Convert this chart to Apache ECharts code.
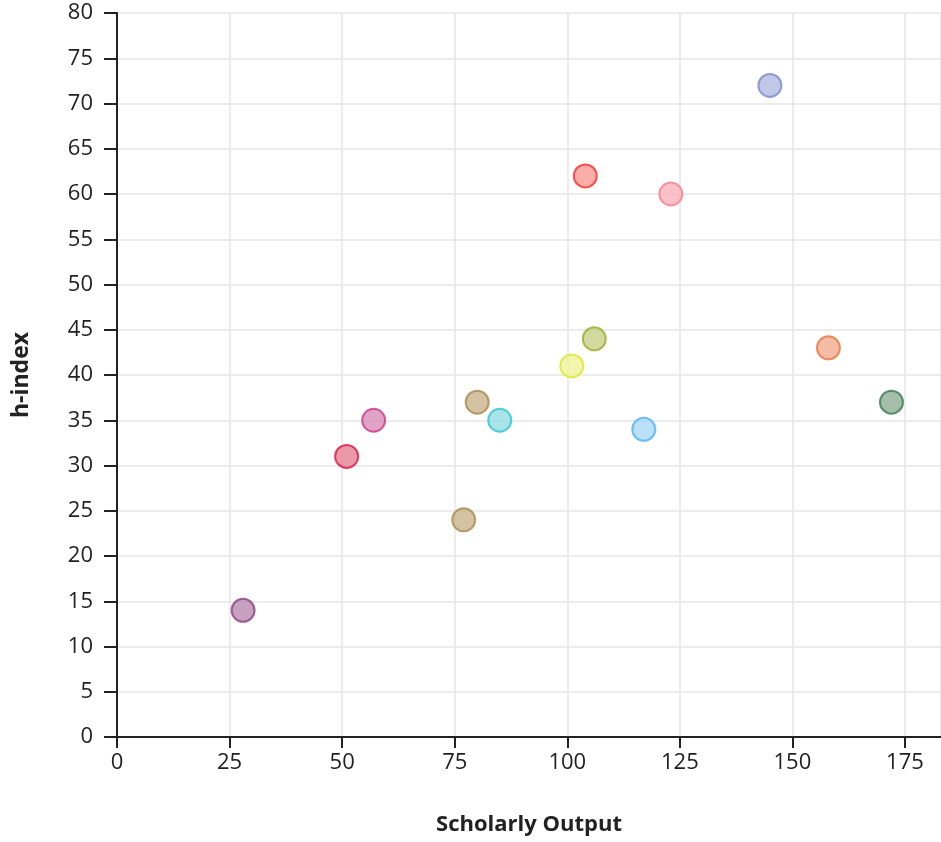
<!DOCTYPE html>
<html>
<head>
<meta charset="utf-8">
<script src="https://cdn.jsdelivr.net/npm/echarts@6/dist/echarts.min.js"></script>
<style>
html,body{margin:0;padding:0;background:#fff;}
#chart{width:941px;height:842px;}
</style>
</head>
<body>
<div id="chart"></div>
<script>
// Data
var scholarlyOutput = [28, 51, 57, 77, 80, 85, 101, 104, 106, 117, 123, 145, 158, 172];
var hIndex          = [14, 31, 35, 24, 37, 35, 41, 62, 44, 34, 60, 72, 43, 37];
var borderColors = ['#8d3e84', '#d71a44', '#c8388a', '#a88a4f', '#a88a4f', '#2ac5cf', '#dbe72a', '#f5302a', '#9aab2c', '#4fb2f4', '#f77d8c', '#7b8bcb', '#e8743c', '#3a7a4f'];
var fillColors   = ['#b889b0', '#e47f94', '#d88bb8', '#c9b38c', '#c9b38c', '#92dde2', '#eef39a', '#f99893', '#c4cf86', '#a9d8fa', '#f9b2ba', '#b1b9e1', '#f2ab8e', '#8eae97'];
var xTicks = { min: 0, max: 183, interval: 25 };
var yTicks = { min: 0, max: 80, interval: 5 };

var points = scholarlyOutput.map(function (x, i) {
  return {
    value: [x, hIndex[i]],
    itemStyle: { color: fillColors[i], borderColor: borderColors[i], borderWidth: 2 }
  };
});

var FONT = 'Open Sans';
var chart = echarts.init(document.getElementById('chart'), null, { renderer: 'canvas' });
chart.setOption({
  animation: false,
  backgroundColor: '#fff',
  grid: { left: 117, right: 0, top: 13, bottom: 105, containLabel: false },
  xAxis: {
    type: 'value',
    min: xTicks.min, max: xTicks.max, interval: xTicks.interval,
    name: 'Scholarly Output',
    nameLocation: 'middle',
    nameGap: 77,
    nameTextStyle: { fontFamily: FONT, fontSize: 22, fontWeight: 'bold', color: '#222' },
    axisLine: { show: true, onZero: false, lineStyle: { color: '#222', width: 2 } },
    axisTick: { show: true, length: 11, lineStyle: { color: '#222', width: 2 } },
    axisLabel: { margin: 15, fontFamily: FONT, fontSize: 22, color: '#222', showMaxLabel: false },
    splitLine: { show: true, lineStyle: { color: '#e6e6e6', width: 1.5 } }
  },
  yAxis: {
    type: 'value',
    min: yTicks.min, max: yTicks.max, interval: yTicks.interval,
    name: 'h-index',
    nameLocation: 'middle',
    nameGap: 84,
    nameRotate: 90,
    nameTextStyle: { fontFamily: FONT, fontSize: 23, fontWeight: 'bold', color: '#222' },
    axisLine: { show: true, lineStyle: { color: '#222', width: 2 } },
    axisTick: { show: true, length: 13, lineStyle: { color: '#222', width: 2 } },
    axisLabel: { margin: 24, fontFamily: FONT, fontSize: 22, color: '#222' },
    splitLine: { show: true, lineStyle: { color: '#e6e6e6', width: 1.5 } }
  },
  series: [{
    type: 'scatter',
    symbol: 'circle',
    symbolSize: 23,
    data: points
  }]
});
</script>
</body>
</html>
